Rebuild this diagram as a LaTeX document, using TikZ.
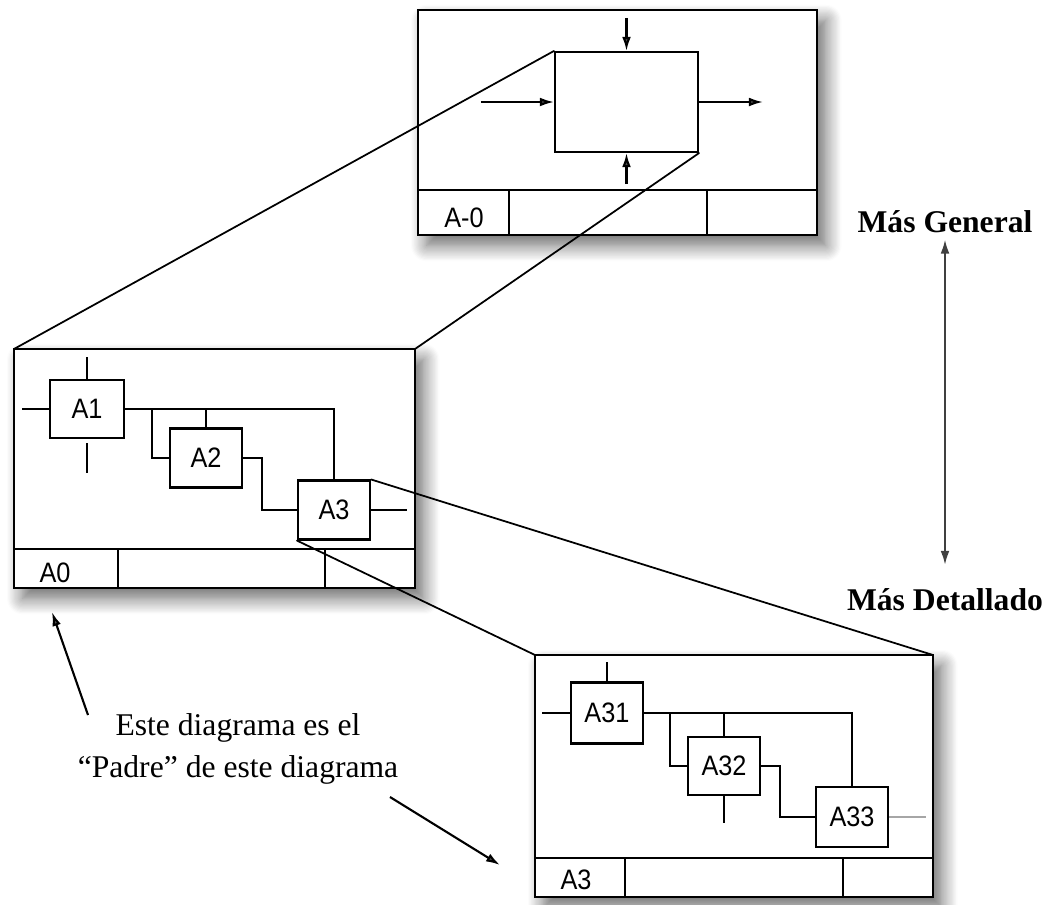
\documentclass[tikz,border=0pt]{standalone}
\usepackage{fontspec}
\setmainfont{Liberation Serif}
\newfontfamily\arialfont[FakeStretch=0.9]{Liberation Sans}
\usetikzlibrary{arrows.meta,shadows.blur}

\begin{document}
\begin{tikzpicture}[
    x=0.02cm, y=-0.02cm,
    line width=1.2pt,
    frame/.style={
        draw, fill=white, line width=1.2pt,
        blur shadow={shadow xshift=5pt, shadow yshift=-6pt,
            shadow blur radius=9pt, shadow blur steps=14, shadow opacity=60}
    },
    box/.style={
        draw, fill=white, line width=1.2pt,
        minimum width=1.44cm, minimum height=1.18cm, inner sep=0pt,
        font=\arialfont\fontsize{16}{18}\selectfont
    },
    tag/.style={font=\arialfont\fontsize{16}{18}\selectfont, inner sep=0pt},
    arrow/.style={-{Latex[length=8pt,width=5pt]}},
    zoomline/.style={line width=1pt, line cap=round},
    level/.style={font=\bfseries\fontsize{18}{22}\selectfont, inner sep=2pt}
]
\useasboundingbox (0,0) rectangle (1058,904);

% ------------------------------------------------
% Frames with title bar
% ------------------------------------------------
% A-0 (top)
\draw[frame] (418,10) rectangle (817,235);
\draw (418,190) -- (817,190);
\draw (509,190) -- (509,235);
\draw (707,190) -- (707,235);
\node[tag] (tA-0) at (464,218) {A-0};

% A0 (middle)
\draw[frame] (14,349) rectangle (415,588);
\draw (14,549) -- (415,549);
\draw (118,549) -- (118,588);
\draw (325,549) -- (325,588);
\node[tag] (tA0) at (55,573) {A0};
\coordinate (A0nw) at (14,349);
\coordinate (A0ne) at (415,349);

% A3 (bottom)
\draw[frame] (535,655) rectangle (933,897);
\draw (535,858) -- (933,858);
\draw (625,858) -- (625,897);
\draw (843,858) -- (843,897);
\node[tag] (tA3) at (576,880) {A3};
\coordinate (A3nw) at (535,655);
\coordinate (A3ne) at (933,655);

% ------------------------------------------------
% A-0 : single activity
% ------------------------------------------------
\node[draw, minimum width=2.86cm, minimum height=2cm] (top) at (626.5,102) {};
\draw[arrow] (top.north) ++(0,-33) -- (top.north);
\draw[arrow] (top.west) ++(-73,0) -- (top.west);
\draw[arrow] (top.east) -- ++(64,0);
\draw[arrow] (top.south) ++(0,31) -- (top.south);

% ------------------------------------------------
% A0 : decomposition
% ------------------------------------------------
\node[box, minimum width=1.48cm, minimum height=1.16cm] (A1) at (87,409) {A1};
\node[box] (A2) at (206,458) {A2};
\node[box] (A3) at (334,510) {A3};

\draw (A1.north) -- ++(0,-22);
\draw (A1.south) ++(0,4) -- ++(0,30);
\draw (A1.west) -- ++(-27,0);

\draw (A1.east) -| (A3.north);
\coordinate (b1) at (152,409);
\draw (b1) |- (A2.west);
\draw (A2.north) -- (A2.north |- A1.east);
\draw (A2.east) -- ++(19,0) |- (A3.west);
\draw (A3.east) -- ++(36,0);

% ------------------------------------------------
% A3 : decomposition
% ------------------------------------------------
\node[box, minimum height=1.22cm] (A31) at (607,713) {A31};
\node[box, minimum height=1.16cm] (A32) at (724,766) {A32};
\node[box, minimum height=1.2cm] (A33) at (852,817) {A33};

\draw (A31.north) -- ++(0,-19);
\draw (A31.west) -- ++(-28,0);

\draw (A31.east) -| (A33.north);
\coordinate (b2) at (670,713);
\draw (b2) |- (A32.west);
\draw (A32.north) -- (A32.north |- A31.east);
\draw (A32.south) -- ++(0,27);
\draw (A32.east) -- ++(19,0) |- (A33.west);
\draw[black!35] (A33.east) -- ++(37,0);

% ------------------------------------------------
% Zoom lines (drawn over the frames)
% ------------------------------------------------
\draw[zoomline] (top.north west) -- (A0nw);
\draw[zoomline] (top.south east) -- (A0ne);
\draw[zoomline] (A3.north east) -- (A3ne);
\draw[zoomline] (A3.south west) -- (A3nw);

% ------------------------------------------------
% Level of detail
% ------------------------------------------------
\node[level] (gen) at (945,222) {Más General};
\node[level] (det) at (945,600) {Más Detallado};
\draw[black!75, {Latex[length=8pt,width=5pt]}-{Latex[length=8pt,width=5pt]},
    shorten <=1pt, shorten >=11pt] (gen.south) -- (det.north);

% ------------------------------------------------
% Parent note
% ------------------------------------------------
\node[align=center, font=\fontsize{18}{24}\selectfont] (padre) at (238,749)
    {Este diagrama es el\\“Padre” de este diagrama};

\coordinate (t1) at (88,715);
\coordinate (h1) at (52,612);
\coordinate (t2) at (390,797);
\coordinate (h2) at (500,865);
\draw[arrow] (t1) -- (h1);
\draw[arrow] (t2) -- (h2);

\end{tikzpicture}
\end{document}
